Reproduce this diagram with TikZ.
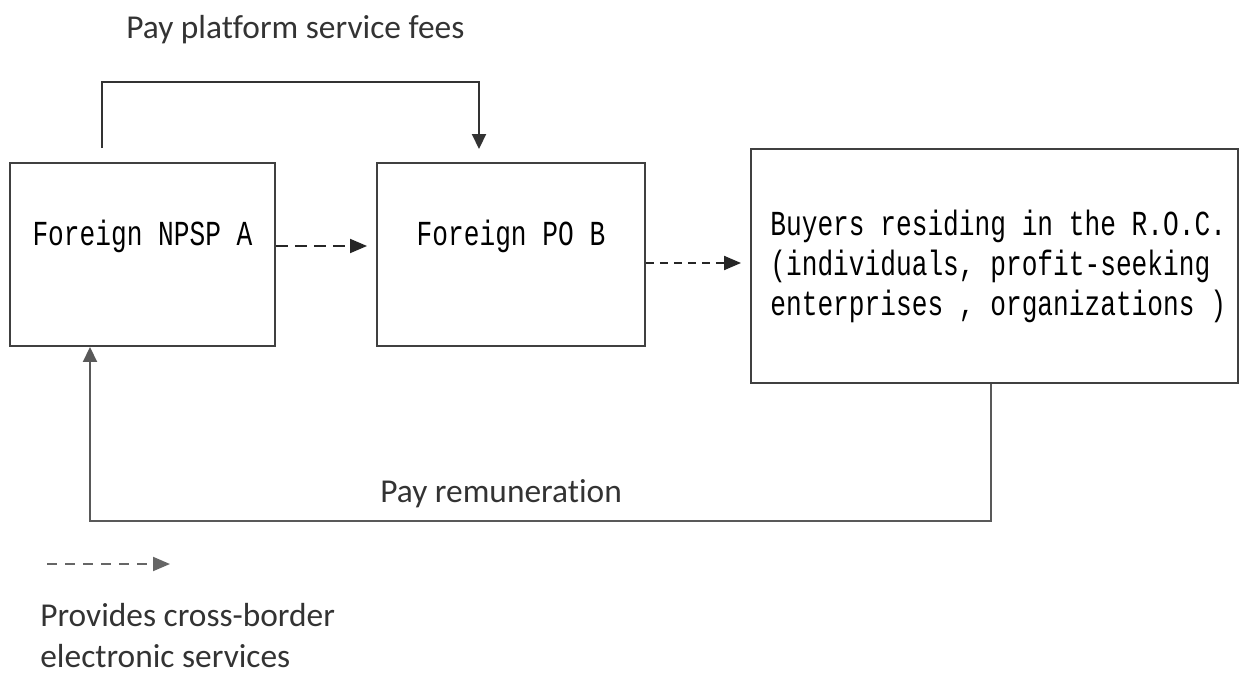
\documentclass[tikz,border=0pt]{standalone}
\usepackage{fontspec}
\setmainfont{Carlito}[Ligatures=NoCommon]
\newfontfamily\boxfont[FakeStretch=0.745]{Liberation Mono}
\usetikzlibrary{arrows.meta}

\tikzset{
  box/.style={draw=black!75,line width=1.1pt,inner sep=0pt},
  boxtext/.style={inner sep=0pt,font=\boxfont\fontsize{20}{22.8}\selectfont},
  lbl/.style={inner sep=0pt,text=black!80,font=\fontsize{19}{23.3}\selectfont},
  flow/.style={draw=black!80,line width=1.1pt,-{Triangle[length=0.3cm,width=0.28cm]}},
  svc/.style={draw=black!85,line width=1.1pt,dash pattern=on 0.24cm off 0.14cm,-{Triangle[length=0.34cm,width=0.28cm]}}
}

\begin{document}
\begin{tikzpicture}
	\useasboundingbox (0,0) rectangle (24.78,13.56);
	% the three parties
	\node [box,minimum width=5.3cm,minimum height=3.66cm] (npsp) at (2.85,8.47) {};
	\node [box,minimum width=5.36cm,minimum height=3.66cm] (po) at (10.22,8.47) {};
	\node [box,minimum width=9.74cm,minimum height=4.68cm] (buyers) at (19.89,8.24) {};
	\node [boxtext,anchor=base] (npsptxt) at ([yshift=0.19cm]npsp.center) {Foreign NPSP A};
	\node [boxtext,anchor=base] (potxt) at ([yshift=0.19cm]po.center) {Foreign PO B};
	\node [boxtext,anchor=west,align=left] (buyerstxt) at ([xshift=0.4cm]buyers.west)
		{Buyers residing in the R.O.C.\\(individuals, profit-seeking\\enterprises , organizations )};

	% services
	\draw [svc] ([yshift=0.17cm]npsp.east) -- ([yshift=0.17cm]po.west) [shorten >=0.18cm];
	\draw [svc,dash pattern=on 0.16cm off 0.12cm] ([yshift=-0.17cm]po.east) -- ([yshift=-0.17cm]po.east -| buyers.west) [shorten >=0.18cm];

	% payments
	\draw [flow,shorten <=0.28cm,shorten >=0.26cm] ([xshift=-0.81cm]npsp.north) -- ++(0,1.6) -| ([xshift=-0.64cm]po.north);
	\node [lbl,anchor=base west] (feelbl) at (2.52,12.78) {Pay platform service fees};
	\draw [flow,draw=black!65] ([xshift=-0.07cm]buyers.south) -- ++(0,-2.74) -| ([xshift=-1.05cm]npsp.south);
	\node [lbl,anchor=base west] (paylbl) at (7.6,3.52) {Pay remuneration};

	% legend
	\coordinate (legA) at (0.94,2.28);
	\coordinate (legB) at (3.4,2.28);
	\draw [svc,draw=black!60,dash pattern=on 0.2cm off 0.16cm] (legA) -- (legB);
	\node [lbl,anchor=north west,align=left] (legtxt) at (0.8,1.5) {Provides cross-border\\electronic services};
\end{tikzpicture}
\end{document}
